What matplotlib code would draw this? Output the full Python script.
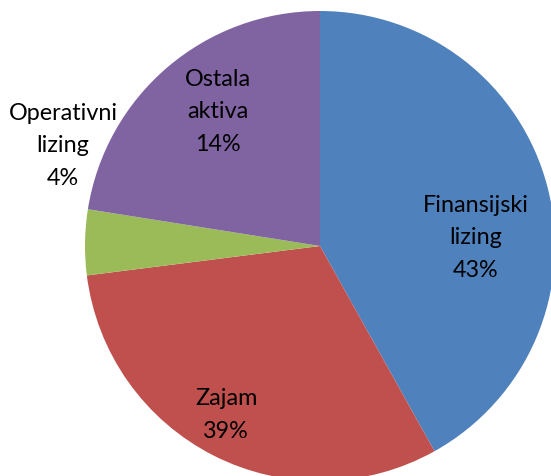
import matplotlib.pyplot as plt

# slice sizes as drawn (degrees of the circle, converted to shares)
categories = ["Finansijski lizing", "Zajam", "Operativni lizing", "Ostala aktiva"]
shares = [41.9, 31.1, 4.5, 22.5]
label_texts = ["Finansijski\nlizing\n43%", "Zajam\n39%", "Operativni\nlizing\n4%", "Ostala\naktiva\n14%"]
colors = ["#4F81BD", "#C0504D", "#9BBB59", "#8064A2"]

plt.rcParams['font.family'] = ['Lato', 'DejaVu Sans']

fig = plt.figure(figsize=(5.51, 4.77), dpi=100)
ax = fig.add_axes([0, 0, 1, 1])

ax.pie(shares, colors=colors, startangle=90, counterclock=False,
       center=(320, 230), radius=235, frame=True)
ax.set_xlim(0, 551)
ax.set_ylim(0, 477)
ax.set_aspect('equal')
ax.axis('off')

label_pos = [(476, 239), (226, 62), (63, 331), (218, 365)]
for txt, (x, y) in zip(label_texts, label_pos):
    ax.text(x, y, txt, ha='center', va='center', fontsize=16.8,
            linespacing=1.7, color='black')

fig.savefig("out.png", dpi=100)
